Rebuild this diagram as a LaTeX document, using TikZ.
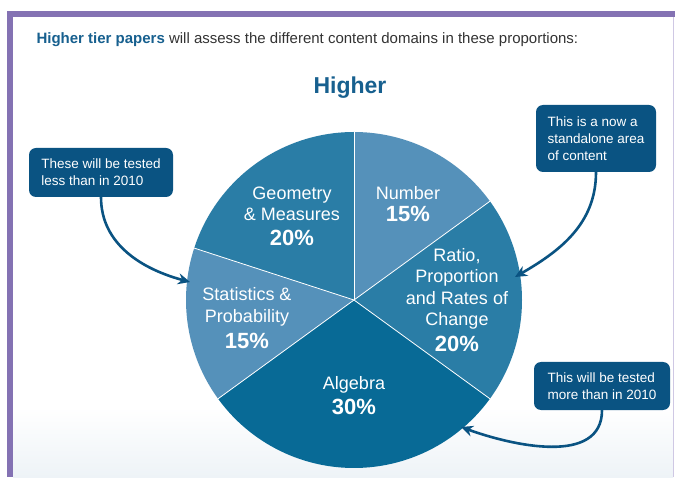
\documentclass[tikz,border=0pt]{standalone}
\usepackage{fontspec}
\setmainfont{Liberation Sans}
\usetikzlibrary{arrows.meta,positioning}
\definecolor{framepurple}{HTML}{8472B3}
\definecolor{frameline}{HTML}{CFC8E4}
\definecolor{headblue}{HTML}{17608F}
\definecolor{headgray}{HTML}{333333}
\definecolor{boxblue}{HTML}{0A5382}
\definecolor{lightseg}{HTML}{5591BA}
\definecolor{midseg}{HTML}{2A7DA6}
\definecolor{darkseg}{HTML}{086A96}
\definecolor{mist}{HTML}{EEF3F7}

\begin{document}
\begin{tikzpicture}[x=1pt,y=1pt,
  callout/.style={fill=boxblue, rounded corners=7pt, text=white, align=left,
    font=\fontsize{13.5}{17}\selectfont, inner sep=0pt},
  callarrow/.style={draw=boxblue, line width=2.6pt, -{Stealth[length=12pt,width=11pt]}},
  seglabel/.style={text=white, align=center, font=\fontsize{18}{21.5}\selectfont},
  segpct/.style={text=white, font=\bfseries\fontsize{22}{24}\selectfont}]
\useasboundingbox (0,0) rectangle (675,477);
\fill[white] (0,0) rectangle (675,477);
\shade[top color=white, bottom color=mist] (13,0) rectangle (673,70);
% frame
\fill[framepurple] (7,460) rectangle (675,466);
\fill[framepurple] (7,0) rectangle (13,466);
\draw[frameline, line width=1pt] (673,0) -- (673,460);

\node[anchor=west, text=headgray, font=\fontsize{15}{18}\selectfont] (head) at (33,437)
  {{\color{headblue}\bfseries Higher tier papers} will assess the different content domains in these proportions:};
\node[text=headblue, font=\bfseries\fontsize{23}{26}\selectfont] (title) at (350,389) {Higher};

% pie
\coordinate (c) at (354,177);
\fill[lightseg] (c) -- ++(90:168) arc[start angle=90, end angle=36, radius=168] -- cycle;
\fill[midseg] (c) -- ++(36:168) arc[start angle=36, end angle=-36, radius=168] -- cycle;
\fill[darkseg] (c) -- ++(-36:168) arc[start angle=-36, end angle=-144, radius=168] -- cycle;
\fill[lightseg] (c) -- ++(-144:168) arc[start angle=-144, end angle=-198, radius=168] -- cycle;
\fill[midseg] (c) -- ++(162:168) arc[start angle=162, end angle=90, radius=168] -- cycle;
\foreach \a in {90,36,-36,-144,162}
  \draw[white, line width=0.8pt] (c) -- ++(\a:168);

\node[seglabel] (numtxt) at (408,284) {Number};
\node[segpct] (numpct) at (408,263) {15\%};
\node[seglabel] (geomtxt) at (292,273) {Geometry\\\& Measures};
\node[segpct] (geompct) at (292,239) {20\%};
\node[seglabel] (ratiotxt) at (457,188) {Ratio,\\Proportion\\and Rates of\\Change};
\node[segpct] (ratiopct) at (457,133) {20\%};
\node[seglabel] (stattxt) at (247,170) {Statistics \&\\Probability};
\node[segpct] (statpct) at (247,136) {15\%};
\node[seglabel] (algtxt) at (354,92) {Algebra};
\node[segpct] (algpct) at (354,70) {30\%};

% callouts
\node[callout, minimum width=144pt, minimum height=49pt] (lessbox) at (101,304.5)
  {These will be tested\\less than in 2010};
\node[callout, minimum width=120pt, minimum height=67pt] (newbox) at (596,338.5)
  {This is a now a\\standalone area\\of content};
\node[callout, minimum width=136pt, minimum height=48pt] (morebox) at (602,91)
  {This will be tested\\more than in 2010};

\coordinate (stattip) at (190,195);
\coordinate (ratiotip) at (515,200);
\coordinate (algtip) at (461,50);
\draw[callarrow] (lessbox.south) to[out=-90, in=165] (stattip);
\draw[callarrow] (newbox.south) to[out=-90, in=30] (ratiotip);
\draw[callarrow] (morebox.south) to[out=-90, in=-20] (algtip);
\end{tikzpicture}
\end{document}
